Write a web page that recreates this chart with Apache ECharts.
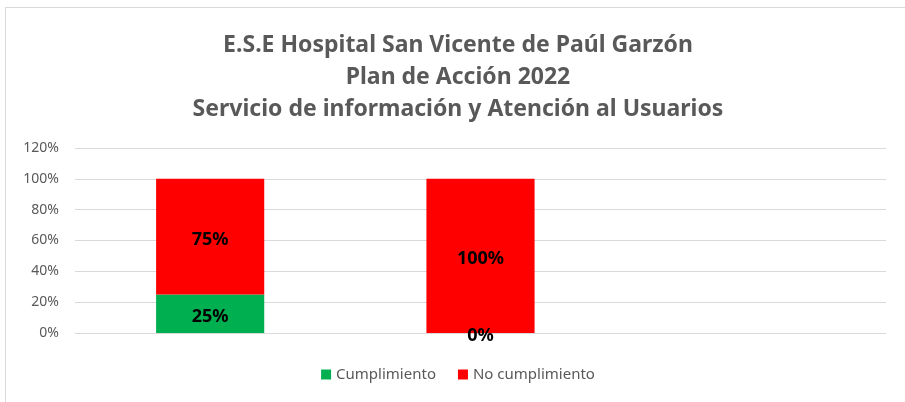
<!DOCTYPE html>
<html>
<head>
<meta charset="utf-8">
<title>Plan de Acción 2022</title>
<script src="https://cdn.jsdelivr.net/npm/echarts@6/dist/echarts.min.js"></script>
<style>
html,body{margin:0;padding:0;background:#fff;}
#main{position:absolute;left:5px;top:7px;width:905px;height:400px;border-left:1px solid #d9d9d9;border-top:1px solid #d9d9d9;box-sizing:border-box;}
</style>
</head>
<body>
<div id="main"></div>
<script type="text/javascript">
// datos
var categorias = ['Actividad 1', 'Actividad 2', 'Actividad 3'];
var cumplimiento = [25, 0, null];
var noCumplimiento = [75, 100, null];
var ticks = [0, 20, 40, 60, 80, 100, 120];

var colores = ['#00b050', '#ff0000'];

var myChart = echarts.init(document.getElementById('main'));

var etiqueta = {
    show: true,
    position: 'inside',
    offset: [0, 3],
    fontFamily: 'Noto Sans',
    fontSize: 18,
    fontWeight: 'bold',
    color: '#000',
    formatter: function (p) {
        return p.value == null ? '' : p.value + '%';
    }
};

var option = {
    color: colores,
    textStyle: {fontFamily: 'Noto Sans'},
    title: {
        text: 'E.S.E Hospital San Vicente de Paúl Garzón\nPlan de Acción 2022\nServicio de información y Atención al Usuarios',
        left: 'center',
        top: 16,
        textStyle: {
            fontFamily: 'Noto Sans',
            fontSize: 23,
            fontWeight: 'bold',
            color: '#595959',
            lineHeight: 32
        }
    },
    legend: {
        bottom: 20,
        left: 'center',
        itemWidth: 10,
        itemHeight: 10,
        itemGap: 22,
        icon: 'rect',
        textStyle: {fontSize: 15, color: '#595959'},
        data: ['Cumplimiento', 'No cumplimiento']
    },
    grid: {
        left: 69,
        right: 24,
        top: 140,
        bottom: 74
    },
    xAxis: {
        type: 'category',
        data: categorias,
        axisLine: {show: false},
        axisTick: {show: false},
        axisLabel: {show: false}
    },
    yAxis: {
        type: 'value',
        min: ticks[0],
        max: ticks[ticks.length - 1],
        interval: 20,
        axisLine: {show: false},
        axisTick: {show: false},
        axisLabel: {
            formatter: '{value}%',
            color: '#595959',
            fontSize: 14,
            margin: 16
        },
        splitLine: {lineStyle: {color: '#d9d9d9', width: 1}}
    },
    series: [
        {
            name: 'Cumplimiento',
            type: 'bar',
            stack: 'total',
            barWidth: '40%',
            data: cumplimiento,
            label: etiqueta
        },
        {
            name: 'No cumplimiento',
            type: 'bar',
            stack: 'total',
            barWidth: '40%',
            data: noCumplimiento,
            label: etiqueta
        }
    ]
};
myChart.setOption(option);
</script>
</body>
</html>
